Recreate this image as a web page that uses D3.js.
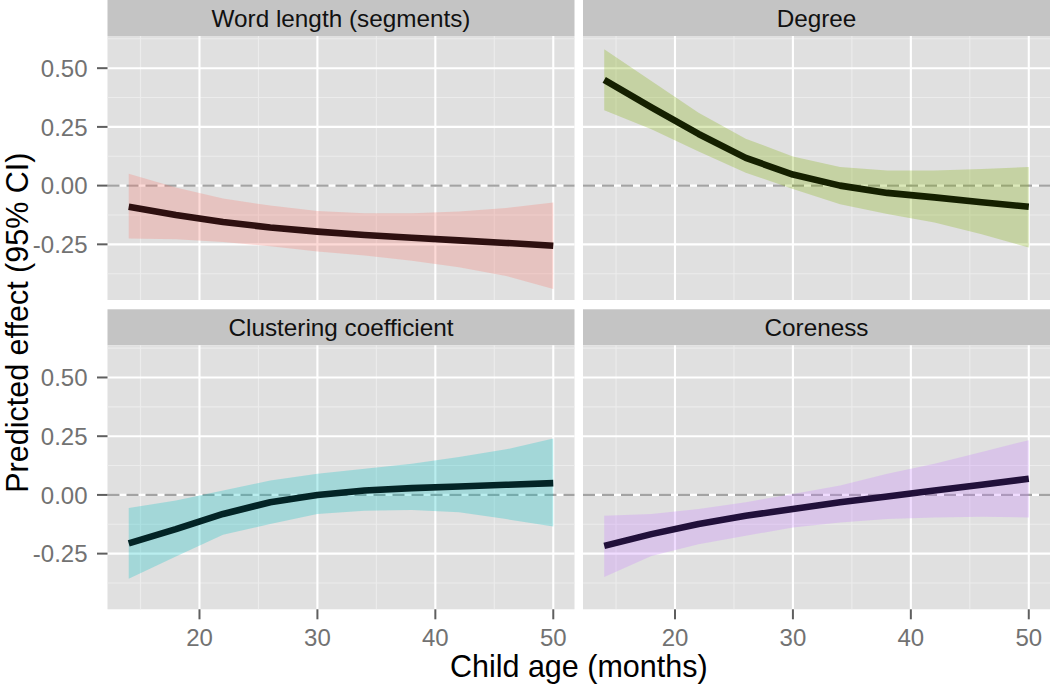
<!DOCTYPE html>
<html>
<head>
<meta charset="utf-8">
<script src="https://cdn.jsdelivr.net/npm/d3@7/dist/d3.min.js"></script>
<style>
  html, body { margin: 0; padding: 0; background: #ffffff; }
  svg { display: block; }
  text { font-family: "Liberation Sans", Arial, Helvetica, sans-serif; }
</style>
</head>
<body>
<svg id="chart" width="1050" height="684"></svg>
<script>
// ---------------- DATA ----------------
const panelTitles = ["Word length (segments)", "Degree", "Clustering coefficient", "Coreness"];
const ages = [14, 18, 22, 26, 30, 34, 38, 42, 46, 50];

const wordFit   = [-0.090, -0.125, -0.155, -0.178, -0.196, -0.210, -0.222, -0.233, -0.244, -0.256];
const wordLower = [-0.225, -0.228, -0.240, -0.258, -0.280, -0.298, -0.320, -0.348, -0.385, -0.440];
const wordUpper = [ 0.050, -0.008, -0.055, -0.085, -0.108, -0.118, -0.118, -0.110, -0.095, -0.072];

const degreeFit   = [0.450, 0.333, 0.220, 0.118, 0.047, 0.000, -0.031, -0.050, -0.071, -0.090];
const degreeLower = [0.321, 0.240, 0.145, 0.055, -0.014, -0.079, -0.121, -0.157, -0.207, -0.264];
const degreeUpper = [0.581, 0.445, 0.310, 0.200, 0.124, 0.079, 0.064, 0.064, 0.071, 0.079];

const clusterFit   = [-0.206, -0.146, -0.081, -0.031, 0.000, 0.019, 0.029, 0.036, 0.043, 0.050];
const clusterLower = [-0.357, -0.262, -0.170, -0.124, -0.081, -0.067, -0.064, -0.074, -0.103, -0.134];
const clusterUpper = [-0.056, -0.024, 0.019, 0.061, 0.090, 0.111, 0.133, 0.161, 0.194, 0.240];

const coreFit   = [-0.217, -0.167, -0.124, -0.089, -0.060, -0.031, -0.007, 0.019, 0.043, 0.069];
const coreLower = [-0.350, -0.260, -0.210, -0.174, -0.139, -0.117, -0.103, -0.096, -0.093, -0.096];
const coreUpper = [-0.089, -0.081, -0.060, -0.031, 0.004, 0.040, 0.090, 0.133, 0.183, 0.233];

const fits   = [wordFit, degreeFit, clusterFit, coreFit];
const lowers = [wordLower, degreeLower, clusterLower, coreLower];
const uppers = [wordUpper, degreeUpper, clusterUpper, coreUpper];

const xDomain = [12.2, 51.8];
const yDomain = [-0.487, 0.637];
const xTicks = [20, 30, 40, 50];
const xTickLabels = ["20", "30", "40", "50"];
const xMinor = [15, 25, 35, 45];
const yTicks = [-0.25, 0, 0.25, 0.5];
const yTickLabels = ["-0.25", "0.00", "0.25", "0.50"];
const yMinor = [-0.375, -0.125, 0.125, 0.375, 0.625];

const xTitle = "Child age (months)";
const yTitle = "Predicted effect (95% CI)";

// ---------------- STYLE ----------------
const ribbonColors = ["#F8766D", "#7CAE00", "#00BFC4", "#C77CFF"];
const lineColors = ["#2e1010", "#152000", "#032426", "#21103a"];

// ---------------- LAYOUT ----------------
const svg = d3.select("#chart");
const colX = [107.5, 583];
const panelW = 467;
const stripTop = [0, 309.3];
const stripH = 36;
const panelH = 264;

const x = d3.scaleLinear().domain(xDomain).range([0, panelW]);
const y = d3.scaleLinear().domain(yDomain).range([panelH, 0]);

const area = d3.area()
  .x((d) => x(d.age))
  .y0((d) => y(d.lo))
  .y1((d) => y(d.hi));
const line = d3.line()
  .x((d) => x(d.age))
  .y((d) => y(d.fit));

panelTitles.forEach((title, i) => {
  const col = i % 2, row = Math.floor(i / 2);
  const px = colX[col];
  const sTop = stripTop[row];
  const pTop = sTop + stripH;

  // strip
  svg.append("rect")
    .attr("x", px).attr("y", sTop).attr("width", panelW).attr("height", stripH)
    .attr("fill", "#c4c4c4");
  svg.append("text")
    .attr("x", px + panelW / 2).attr("y", sTop + 27)
    .attr("text-anchor", "middle")
    .attr("font-size", 24.3)
    .attr("fill", "#111")
    .text(title);

  const g = svg.append("g").attr("transform", `translate(${px},${pTop})`);
  g.append("rect").attr("width", panelW).attr("height", panelH).attr("fill", "#e0e0e0");

  // minor grid
  g.selectAll(".xminor").data(xMinor).enter().append("line")
    .attr("x1", (d) => x(d)).attr("x2", (d) => x(d))
    .attr("y1", 0).attr("y2", panelH)
    .attr("stroke", "#ececec").attr("stroke-width", 1.1);
  g.selectAll(".yminor").data(yMinor).enter().append("line")
    .attr("y1", (d) => y(d)).attr("y2", (d) => y(d))
    .attr("x1", 0).attr("x2", panelW)
    .attr("stroke", "#ececec").attr("stroke-width", 1.1);
  // major grid
  g.selectAll(".xmajor").data(xTicks).enter().append("line")
    .attr("x1", (d) => x(d)).attr("x2", (d) => x(d))
    .attr("y1", 0).attr("y2", panelH)
    .attr("stroke", "#ffffff").attr("stroke-width", 2.1);
  g.selectAll(".ymajor").data(yTicks).enter().append("line")
    .attr("y1", (d) => y(d)).attr("y2", (d) => y(d))
    .attr("x1", 0).attr("x2", panelW)
    .attr("stroke", "#ffffff").attr("stroke-width", 2.1);

  // zero reference line
  g.append("line")
    .attr("x1", 0).attr("x2", panelW)
    .attr("y1", y(0)).attr("y2", y(0))
    .attr("stroke", "#a3a3a3").attr("stroke-width", 2.1)
    .attr("stroke-dasharray", "12,7");

  const data = ages.map((a, k) => ({ age: a, fit: fits[i][k], lo: lowers[i][k], hi: uppers[i][k] }));

  g.append("path").datum(data)
    .attr("d", area)
    .attr("fill", ribbonColors[i]).attr("fill-opacity", 0.27);
  g.append("path").datum(data)
    .attr("d", line)
    .attr("fill", "none")
    .attr("stroke", lineColors[i])
    .attr("stroke-width", 6.6)
    .attr("stroke-linejoin", "round")
    .attr("stroke-linecap", "butt");

  // y axis for left column
  if (col === 0) {
    const ya = svg.append("g").attr("transform", `translate(${px},${pTop})`);
    ya.selectAll(".yt").data(yTicks).enter().append("line")
      .attr("x1", -10.5).attr("x2", 0)
      .attr("y1", (d) => y(d)).attr("y2", (d) => y(d))
      .attr("stroke", "#5f5f5f").attr("stroke-width", 2);
    ya.selectAll(".yl").data(yTicks).enter().append("text")
      .attr("x", -20).attr("y", (d) => y(d) + 8.7)
      .attr("text-anchor", "end")
      .attr("font-size", 24)
      .attr("fill", "#727272")
      .text((d, k) => yTickLabels[k]);
  }
  // x axis for bottom row
  if (row === 1) {
    const xa = svg.append("g").attr("transform", `translate(${px},${pTop + panelH})`);
    xa.selectAll(".xt").data(xTicks).enter().append("line")
      .attr("x1", (d) => x(d)).attr("x2", (d) => x(d))
      .attr("y1", 0).attr("y2", 10)
      .attr("stroke", "#5f5f5f").attr("stroke-width", 2);
    xa.selectAll(".xl").data(xTicks).enter().append("text")
      .attr("x", (d) => x(d)).attr("y", 36.5)
      .attr("text-anchor", "middle")
      .attr("font-size", 24)
      .attr("fill", "#727272")
      .text((d, k) => xTickLabels[k]);
  }
});

// axis titles
const plotLeft = colX[0], plotRight = colX[1] + panelW;
svg.append("text")
  .attr("x", (plotLeft + plotRight) / 2).attr("y", 676.5)
  .attr("text-anchor", "middle")
  .attr("font-size", 30.5)
  .attr("fill", "#000")
  .text(xTitle);
const yMid = (stripTop[0] + stripH + stripTop[1] + stripH + panelH) / 2;
svg.append("text")
  .attr("transform", `translate(27.5,${yMid}) rotate(-90)`)
  .attr("text-anchor", "middle")
  .attr("font-size", 30.5)
  .attr("fill", "#000")
  .text(yTitle);
</script>
</body>
</html>
